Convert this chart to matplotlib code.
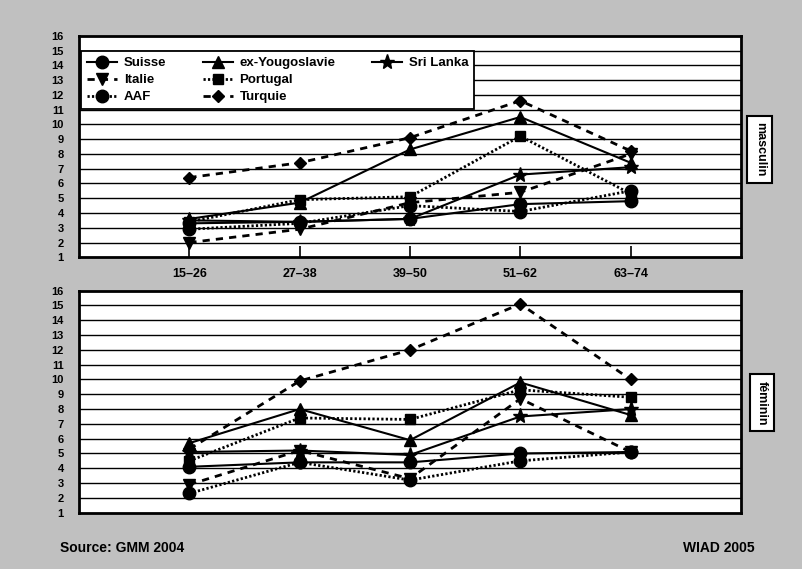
import matplotlib
matplotlib.use("Agg")
import matplotlib.pyplot as plt
from matplotlib.lines import Line2D

plt.rcParams['font.family'] = ['Liberation Sans', 'DejaVu Sans']
narrow = ['Liberation Sans Narrow', 'Liberation Sans', 'DejaVu Sans']

ages = ['15\u201326', '27\u201338', '39\u201350', '51\u201362', '63\u201374']
series = ['Suisse', 'Italie', 'AAF', 'ex-Yougoslavie', 'Portugal', 'Turquie', 'Sri Lanka']

# masculin
m_suisse = [3.3, 3.4, 3.6, 4.6, 4.8]
m_italie = [2.0, 2.9, 4.7, 5.4, 8.0]
m_aaf = [2.9, 3.3, 4.5, 4.1, 5.5]
m_yougo = [3.6, 4.7, 8.3, 10.5, 7.4]
m_portugal = [3.4, 4.9, 5.1, 9.2, 5.3]
m_turquie = [6.4, 7.4, 9.1, 11.6, 8.2]
m_srilanka = [3.5, 3.4, 3.6, 6.6, 7.1]

# féminin
f_suisse = [4.1, 4.4, 4.4, 5.0, 5.1]
f_italie = [2.9, 5.2, 3.3, 8.7, 5.1]
f_aaf = [2.3, 4.4, 3.2, 4.5, 5.1]
f_yougo = [5.7, 8.0, 5.9, 9.8, 7.6]
f_portugal = [4.5, 7.4, 7.3, 9.3, 8.8]
f_turquie = [5.3, 9.9, 12.0, 15.1, 10.0]
f_srilanka = [5.1, 5.2, 4.9, 7.5, 8.0]

masc = [m_suisse, m_italie, m_aaf, m_yougo, m_portugal, m_turquie, m_srilanka]
fem = [f_suisse, f_italie, f_aaf, f_yougo, f_portugal, f_turquie, f_srilanka]

dashed = (0, (2.6, 2.2))
dotted = (0, (0.8, 0.8))
styles = {
    'Suisse': dict(ls='-', marker='o', ms=9, lw=1.5),
    'Italie': dict(ls=dashed, marker='v', ms=8.5, lw=2),
    'AAF': dict(ls=dotted, marker='o', ms=9, lw=2),
    'ex-Yougoslavie': dict(ls='-', marker='^', ms=8.5, lw=1.5),
    'Portugal': dict(ls=dotted, marker='s', ms=7, lw=2),
    'Turquie': dict(ls=dashed, marker='D', ms=6.5, lw=2),
    'Sri Lanka': dict(ls='-', marker='*', ms=11, lw=1.5),
}

fig = plt.figure(figsize=(8.03, 5.69), dpi=100)
fig.patch.set_facecolor('#c0c0c0')

ax1 = fig.add_axes([0.0984, 0.5478, 0.8244, 0.3894])
ax2 = fig.add_axes([0.0984, 0.0990, 0.8244, 0.3901])

x = list(range(len(ages)))
for ax, data in [(ax1, masc), (ax2, fem)]:
    ax.set_facecolor('white')
    for name, vals in zip(series, data):
        st = styles[name]
        ax.plot(x, vals, color='black', linestyle=st['ls'], lw=st['lw'],
                marker=st['marker'], ms=st['ms'], mfc='black', mec='black',
                label=name, zorder=3)
    ax.set_xlim(-1, 5)
    ax.set_ylim(1, 16)
    ax.set_yticks(range(1, 17))
    for v in range(2, 16):
        ax.axhline(v, color='black', lw=1, zorder=1)
    for s in ax.spines.values():
        s.set_linewidth(2)
    ax.tick_params(axis='y', length=0, pad=11)
    for lab in ax.get_yticklabels():
        lab.set_fontweight('bold')
        lab.set_fontsize(8)

ax1.set_xticks(x)
ax1.set_xticklabels(ages, fontsize=9, fontweight='bold', family=narrow)
ax1.tick_params(axis='x', direction='in', length=8, width=1.2, pad=8)
ax2.set_xticks([])

# 3 colonnes : 3 / 3 / 1 entrées
handles, labels = ax1.get_legend_handles_labels()
blank = Line2D([], [], color='none')
h = handles + [blank, blank]
l = labels + ['', '']
leg = ax1.legend(h, l, ncol=3, loc='upper left', bbox_to_anchor=(0.003, 0.93),
                 frameon=True, fancybox=False, framealpha=1, edgecolor='black',
                 prop={'weight': 'bold', 'size': 9.5}, handlelength=2.3,
                 labelspacing=0.35, columnspacing=2.75, borderpad=0.45,
                 handletextpad=0.5, borderaxespad=0)
leg.get_frame().set_linewidth(1.3)

box = dict(boxstyle='square,pad=0.5', fc='white', ec='black', lw=1.5)
fig.text(0.946, 0.738, 'masculin', rotation=270, ha='center', va='center',
         fontsize=9, fontweight='bold', bbox=box)
fig.text(0.949, 0.292, 'féminin', rotation=270, ha='center', va='center',
         fontsize=9, fontweight='bold', bbox=box)

fig.text(0.075, 0.037, 'Source: GMM 2004', fontsize=10, fontweight='bold',
         family=narrow, ha='left', va='center')
fig.text(0.940, 0.037, 'WIAD 2005', fontsize=10, fontweight='bold',
         family=narrow, ha='right', va='center')

fig.savefig('out.png', dpi=100, facecolor=fig.get_facecolor())
